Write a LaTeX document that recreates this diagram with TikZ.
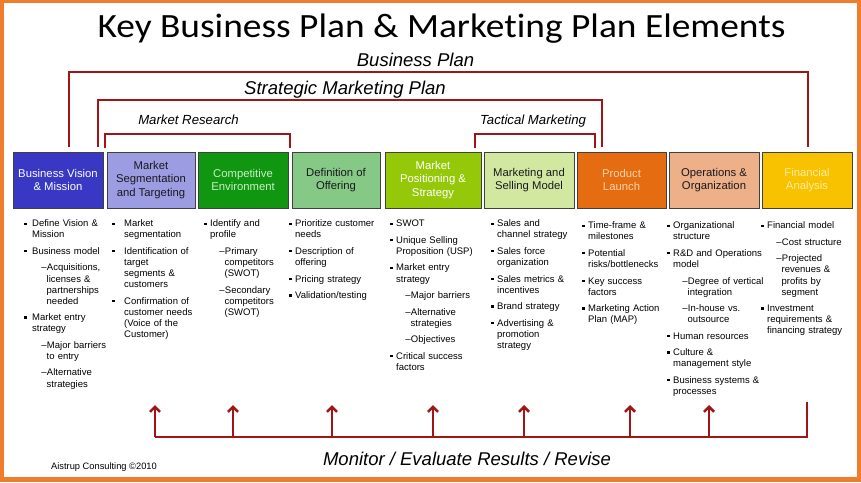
\documentclass[tikz,border=0pt]{standalone}
\usepackage{fontspec}
\setmainfont{Liberation Sans}
\newfontfamily\titlefont[Ligatures=NoCommon]{Carlito}
\usetikzlibrary{arrows.meta}

\definecolor{frameorange}{RGB}{238,126,46}
\definecolor{bracketred}{RGB}{160,22,22}
\definecolor{visionblue}{RGB}{56,56,196}
\definecolor{segmentlilac}{RGB}{156,156,226}
\definecolor{compgreen}{RGB}{16,150,16}
\definecolor{offergreen}{RGB}{134,200,134}
\definecolor{positionlime}{RGB}{150,200,10}
\definecolor{sellingpale}{RGB}{210,232,160}
\definecolor{launchorange}{RGB}{229,108,16}
\definecolor{opspeach}{RGB}{237,176,136}
\definecolor{financegold}{RGB}{248,194,0}
\definecolor{darktext}{RGB}{25,25,30}

\newcommand{\bulletsq}{\rule[2pt]{2.3pt}{2.3pt}}
\newenvironment{blist}[1][5.5pt]{\begin{list}{\bulletsq}{%
  \setlength{\leftmargin}{#1}\setlength{\labelwidth}{2.3pt}%
  \setlength{\labelsep}{\dimexpr#1-2.3pt\relax}\setlength{\itemsep}{5.4pt}%
  \setlength{\topsep}{0pt}\setlength{\partopsep}{0pt}\setlength{\parsep}{0pt}%
  \setlength{\itemindent}{0pt}}}{\end{list}}
\newenvironment{slist}{\begin{list}{--}{%
  \setlength{\leftmargin}{14.5pt}\setlength{\labelwidth}{5pt}%
  \setlength{\labelsep}{0.4pt}\setlength{\itemsep}{5.4pt}%
  \setlength{\topsep}{5.4pt}\setlength{\partopsep}{0pt}\setlength{\parsep}{0pt}%
  \setlength{\itemindent}{0pt}}}{\end{list}}

\begin{document}
\begin{tikzpicture}[x=1pt,y=-1pt,
    box/.style={draw=black!75, line width=0.6pt, minimum height=56pt, inner sep=1pt,
      align=center, font=\fontsize{11.3}{13.5}\selectfont},
    bracket/.style={draw=bracketred, line width=2.6pt},
    upward/.style={bracket, -{Straight Barb[length=5pt,width=10pt]}},
    items/.style={anchor=north west, inner sep=0pt, text width=100pt, align=left,
      font=\fontsize{9.5}{11.1}\selectfont},
    plabel/.style={anchor=base, font=\fontsize{18.5}{20}\selectfont\itshape},
    sublabel/.style={anchor=base, font=\fontsize{13.2}{15}\selectfont\itshape}]
    \useasboundingbox (0,0) rectangle (861,482);
    \fill[frameorange] (0,0) rectangle (861,482);
    \fill[white] (4,3) rectangle (857,477);

    \node[anchor=base, font=\titlefont\fontsize{34}{38}\selectfont] (title) at (441.5,37)
      {\scalebox{1.1}[1]{Key Business Plan \& Marketing Plan Elements}};

    \draw[bracket] (69,147) -- (69,72) -- (808,72) -- (808,147);
    \node[plabel] (bizplan) at (415.5,66.7) {Business Plan};
    \draw[bracket] (98,147) -- (98,100) -- (602,100) -- (602,147);
    \node[plabel] (strategic) at (345,94) {Strategic Marketing Plan};
    \draw[bracket] (105,148) -- (105,134) -- (290,134) -- (290,148);
    \node[sublabel] (research) at (188.5,124.5) {Market Research};
    \draw[bracket] (475,148) -- (475,134) -- (595,134) -- (595,148);
    \node[sublabel] (tactical) at (533,124.5) {Tactical Marketing};

    \node[box, fill=visionblue, text=white, minimum width=90pt] (vision) at (58,180)
      {Business Vision\\\& Mission};
    \node[box, fill=segmentlilac, text=darktext, minimum width=88pt] (segment) at (151,180)
      {Market\\Segmentation\\and Targeting};
    \node[box, fill=compgreen, text={rgb,255:red,200;green,240;blue,200}, minimum width=90pt] (compete) at (243,180)
      {Competitive\\Environment};
    \node[box, fill=offergreen, text=darktext, minimum width=88pt] (offer) at (336,180)
      {Definition of\\Offering};
    \node[box, fill=positionlime, text=white, minimum width=96pt] (position) at (433,180)
      {Market\\Positioning \&\\Strategy};
    \node[box, fill=sellingpale, text=darktext, minimum width=90pt] (selling) at (529,180)
      {Marketing and\\Selling Model};
    \node[box, fill=launchorange, text={rgb,255:red,250;green,212;blue,172}, minimum width=89pt] (launch) at (621.5,180)
      {Product\\Launch};
    \node[box, fill=opspeach, text=darktext, minimum width=90pt] (ops) at (714,180)
      {Operations \&\\Organization};
    \node[box, fill=financegold, text={rgb,255:red,255;green,236;blue,160}, minimum width=90pt] (finance) at (807,180)
      {Financial\\Analysis};

    \node[items] (visionlist) at (24,215.5) {\begin{blist}[8pt]
      \item Define Vision \&\\ Mission
      \item Business model
        \begin{slist}\item Acquisitions,\\ licenses \&\\ partnerships\\ needed\end{slist}
      \item Market entry\\ strategy
        \begin{slist}\item Major barriers\\ to entry
        \item Alternative\\ strategies\end{slist}
      \end{blist}};
    \node[items] (segmentlist) at (112,215.5) {\begin{blist}[12pt]
      \item Market\\ segmentation
      \item Identification of\\ target\\ segments \&\\ customers
      \item Confirmation of\\ customer needs\\ (Voice of the\\ Customer)
      \end{blist}};
    \node[items] (competelist) at (204,215.5) {\begin{blist}[6pt]
      \item Identify and\\ profile
        \begin{slist}\item Primary\\ competitors\\ (SWOT)
        \item Secondary\\ competitors\\ (SWOT)\end{slist}
      \end{blist}};
    \node[items] (offerlist) at (289,215.5) {\begin{blist}[6pt]
      \item Prioritize customer\\ needs
      \item Description of\\ offering
      \item Pricing strategy
      \item Validation/testing
      \end{blist}};
    \node[items] (positionlist) at (390,215.5) {\begin{blist}[6pt]
      \item SWOT
      \item Unique Selling\\ Proposition (USP)
      \item Market entry\\ strategy
        \begin{slist}\item Major barriers
        \item Alternative\\ strategies
        \item Objectives\end{slist}
      \item Critical success\\ factors
      \end{blist}};
    \node[items] (sellinglist) at (491,215.5) {\begin{blist}[6pt]
      \item Sales and\\ channel strategy
      \item Sales force\\ organization
      \item Sales metrics \&\\ incentives
      \item Brand strategy
      \item Advertising \&\\ promotion\\ strategy
      \end{blist}};
    \node[items] (launchlist) at (582,217.5) {\begin{blist}[6pt]
      \item Time-frame \&\\ milestones
      \item Potential\\ risks/bottlenecks
      \item Key success\\ factors
      \item Marketing Action\\ Plan (MAP)
      \end{blist}};
    \node[items] (opslist) at (667,217.5) {\begin{blist}[6pt]
      \item Organizational\\ structure
      \item R\&D and Operations\\ model
        \begin{slist}\item Degree of vertical\\ integration
        \item In-house vs.\\ outsource\end{slist}
      \item Human resources
      \item Culture \&\\ management style
      \item Business systems \&\\ processes
      \end{blist}};
    \node[items] (financelist) at (761,217.5) {\begin{blist}[6pt]
      \item Financial model
        \begin{slist}\item Cost structure
        \item Projected\\ revenues \&\\ profits by\\ segment\end{slist}
      \item Investment\\ requirements \&\\ financing strategy
      \end{blist}};

    \draw[bracket] (155,437) -- (807,437) -- (807,402);
    \draw[upward] (155,437) -- (155,405);
    \draw[upward] (233,437) -- (233,405);
    \draw[upward] (332,437) -- (332,405);
    \draw[upward] (433,437) -- (433,405);
    \draw[upward] (524,437) -- (524,405);
    \draw[upward] (630,437) -- (630,405);
    \draw[upward] (709,437) -- (709,405);
    \node[plabel] (monitor) at (467,465) {Monitor / Evaluate Results / Revise};
    \node[anchor=base, font=\fontsize{9.3}{10}\selectfont] (credit) at (104,469)
      {Aistrup Consulting \textcopyright2010};
\end{tikzpicture}
\end{document}
